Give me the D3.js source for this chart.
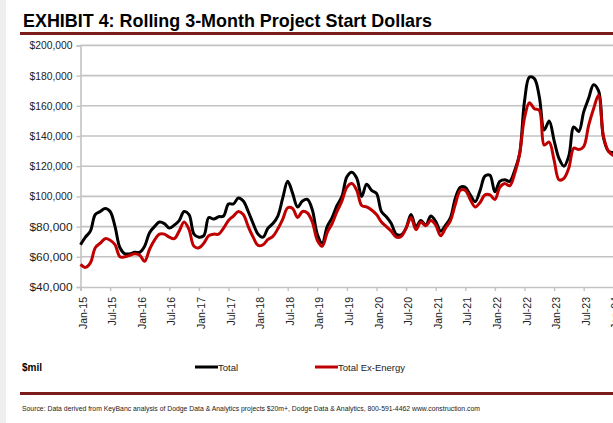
<!DOCTYPE html>
<html>
<head>
<meta charset="utf-8">
<script src="https://cdn.jsdelivr.net/npm/d3@7/dist/d3.min.js"></script>
<style>
  html, body { margin: 0; padding: 0; background: #fff; }
  svg { display: block; font-family: "Liberation Sans", Arial, sans-serif; }
</style>
</head>
<body>
<svg id="chart" width="613" height="423"></svg>
<script>
// Rolling 3-month project start dollars ($mil), monthly Jan-15 .. Jan-24
const startYear = 2015;
const totalValues = [
  68000, 73000, 77000, 88000, 90000, 92000, 90000, 80000, 66000, 62000,
  62000, 63000, 63000, 67000, 76000, 80000, 83000, 82000, 79000, 81000,
  84000, 90000, 88000, 75000, 73000, 74000, 86000, 85000, 86500, 87000,
  95000, 95000, 99000, 97000, 90000, 82000, 75000, 73000, 79000, 82000,
  87000, 99000, 110000, 102000, 93000, 97000, 98000, 91000, 75000, 69000,
  80000, 86000, 94000, 100000, 113000, 116000, 112000, 100000, 108000, 104000,
  102000, 90000, 86500, 82000, 75000, 74500, 79000, 88000, 80000, 84000,
  81000, 87000, 83500, 77000, 81000, 86000, 99000, 106000, 106000, 101000,
  96500, 104000, 113500, 114000, 103000, 110000, 111000, 110000, 117000, 128000,
  163000, 179000, 178000, 166000, 144000, 150000, 137000, 125000, 120000, 127000,
  146000, 143000, 156000, 165000, 174000, 170000, 139000, 130000, 129000
];
const exEnergyValues = [
  55000, 53000, 56000, 66000, 69000, 72000, 71000, 68000, 60000, 60000,
  61000, 62000, 61000, 57000, 65000, 71000, 75000, 75000, 73000, 72000,
  77000, 83000, 78000, 67000, 66000, 69000, 74000, 75000, 75000, 79000,
  84000, 87000, 90000, 88000, 80000, 73000, 67500, 68000, 71500, 73500,
  78500, 85000, 92500, 92000, 86000, 90000, 89000, 83000, 71000, 67000,
  76000, 82000, 90000, 97000, 106000, 108500, 104000, 94000, 93000, 91000,
  88000, 83000, 80000, 77000, 73000, 73500, 79000, 86000, 78000, 83000,
  80500, 84000, 81000, 74000, 79000, 84000, 95000, 104000, 104000, 98000,
  93000, 96000, 101000, 101000, 98000, 106000, 108500, 107000, 115000, 128000,
  152000, 162000, 158000, 157000, 134000, 136000, 124000, 111000, 112000, 119000,
  132000, 131000, 133000, 147000, 158000, 167000, 140000, 130000, 127000
];
const yTickValues = [40000, 60000, 80000, 100000, 120000, 140000, 160000, 180000, 200000];
const xTickLabels = ["Jan-15", "Jul-15", "Jan-16", "Jul-16", "Jan-17", "Jul-17", "Jan-18", "Jul-18",
  "Jan-19", "Jul-19", "Jan-20", "Jul-20", "Jan-21", "Jul-21", "Jan-22", "Jul-22", "Jan-23", "Jul-23", "Jan-24"];
const seriesNames = ["Total", "Total Ex-Energy"];
const seriesColors = ["#000000", "#c00000"];

const svg = d3.select("#chart");
const W = 613, H = 423;
const maroon = "#7b1c1c";
const gridColor = "#c3c3c3";

svg.append("rect").attr("width", W).attr("height", H).attr("fill", "#fff");
svg.append("rect").attr("x", 0).attr("y", 0).attr("width", 6).attr("height", H).attr("fill", "#efefef");

// Title and rule
svg.append("text")
  .attr("x", 23).attr("y", 27)
  .attr("font-size", 19).attr("font-weight", "bold").attr("fill", "#000")
  .attr("textLength", 409).attr("lengthAdjust", "spacingAndGlyphs")
  .text("EXHIBIT 4: Rolling 3-Month Project Start Dollars");
svg.append("rect").attr("x", 20).attr("y", 32).attr("width", W - 20).attr("height", 3).attr("fill", maroon);

// Scales
const plotLeft = 80.5, plotTop = 45.4, plotBottom = 287;
const x = d3.scaleLinear().domain([0, 108]).range([plotLeft, 613.3]);
const y = d3.scaleLinear().domain([40000, 200000]).range([plotBottom, plotTop]);

// Gridlines
svg.append("g").selectAll("line")
  .data(yTickValues.slice(1))
  .join("line")
  .attr("x1", plotLeft).attr("x2", W)
  .attr("y1", d => y(d)).attr("y2", d => y(d))
  .attr("stroke", gridColor).attr("stroke-width", 1.6);

// Y axis
const yAxis = d3.axisLeft(y)
  .tickValues(yTickValues)
  .tickSize(4)
  .tickPadding(4)
  .tickFormat(d => "$" + d3.format(",")(d));
const gy = svg.append("g").attr("transform", `translate(${plotLeft},0)`).call(yAxis);
gy.select(".domain").attr("stroke", gridColor).attr("stroke-width", 1.6);
gy.selectAll(".tick line").attr("stroke", gridColor).attr("stroke-width", 1.4);
gy.selectAll(".tick text")
  .attr("font-size", 10).attr("fill", "#222")
  .attr("font-family", "Liberation Sans, Arial, sans-serif")
  .attr("textLength", 43).attr("lengthAdjust", "spacingAndGlyphs")
  .attr("dy", "0.35em");

// X axis (ticks every 6 months)
const xTickValues = xTickLabels.map((_, i) => i * 6);
const xAxis = d3.axisBottom(x)
  .tickValues(xTickValues)
  .tickSize(4)
  .tickFormat((d, i) => xTickLabels[i]);
const gx = svg.append("g").attr("transform", `translate(0,${plotBottom})`).call(xAxis);
gx.select(".domain").attr("stroke", gridColor).attr("stroke-width", 1.6);
gx.selectAll(".tick line").attr("stroke", gridColor).attr("stroke-width", 1.4);
gx.selectAll(".tick text")
  .attr("font-size", 10.5).attr("fill", "#222")
  .attr("font-family", "Liberation Sans, Arial, sans-serif")
  .attr("text-anchor", "end")
  .attr("transform", "translate(5.5,10) rotate(-90)")
  .attr("x", 0).attr("y", 0).attr("dy", 0);

// Lines
const line = d3.line()
  .x((d, i) => x(i))
  .y(d => y(d))
  .curve(d3.curveCatmullRom.alpha(0.5));
[totalValues, exEnergyValues].forEach((vals, k) => {
  svg.append("path")
    .attr("d", line(vals))
    .attr("fill", "none")
    .attr("stroke", seriesColors[k])
    .attr("stroke-width", 3)
    .attr("stroke-linejoin", "round");
});

// Legend row
svg.append("text").attr("x", 22).attr("y", 371)
  .attr("font-size", 10).attr("font-weight", "bold").attr("fill", "#000").text("$mil");
const legendX = [195, 315];
seriesNames.forEach((name, k) => {
  svg.append("line")
    .attr("x1", legendX[k]).attr("x2", legendX[k] + 23)
    .attr("y1", 367).attr("y2", 367)
    .attr("stroke", seriesColors[k]).attr("stroke-width", 3);
  svg.append("text")
    .attr("x", legendX[k] + 23).attr("y", 370.5)
    .attr("font-size", 9.5).attr("fill", "#222")
    .text(name);
});

// Bottom rule and source
svg.append("rect").attr("x", 20).attr("y", 392).attr("width", W - 20).attr("height", 3).attr("fill", maroon);
svg.append("text")
  .attr("x", 22).attr("y", 410.5)
  .attr("font-size", 6.8).attr("fill", "#222")
  .attr("textLength", 458).attr("lengthAdjust", "spacingAndGlyphs")
  .text("Source: Data derived from KeyBanc analysis of Dodge Data & Analytics projects $20m+, Dodge Data & Analytics, 800-591-4462 www.construction.com");
</script>
</body>
</html>
